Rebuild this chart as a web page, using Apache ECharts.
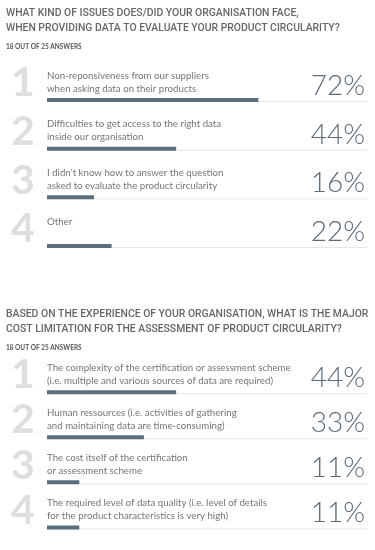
<!DOCTYPE html>
<html><head><meta charset="utf-8">
<script src="https://cdn.jsdelivr.net/npm/echarts@6/dist/echarts.min.js"></script>
<style>html,body{margin:0;padding:0;background:#fff}#c{width:375px;height:550px}</style>
</head><body><div id="c"></div>
<script>
const q1Title = 'WHAT KIND OF ISSUES DOES/DID YOUR ORGANISATION FACE,\nWHEN PROVIDING DATA TO EVALUATE YOUR PRODUCT CIRCULARITY?';
const q1Sub = '18 OUT OF 25 ANSWERS';
const q1Categories = [
  'Non-reponsiveness from our suppliers\nwhen asking data on their products',
  'Difficulties to get access to the right data\ninside our organisation',
  "I didn't know how to answer the question\nasked to evaluate the product circularity",
  'Other'
];
const q1Values = [72, 44, 16, 22];

const q2Title = 'BASED ON THE EXPERIENCE OF YOUR ORGANISATION, WHAT IS THE MAJOR\nCOST LIMITATION FOR THE ASSESSMENT OF PRODUCT CIRCULARITY?';
const q2Sub = '18 OUT OF 25 ANSWERS';
const q2Categories = [
  'The complexity of the certification or assessment scheme\n(i.e. multiple and various sources of data are required)',
  'Human ressources (i.e. activities of gathering\nand maintaining data are time-consuming)',
  'The cost itself of the certification\nor assessment scheme',
  'The required level of data quality (i.e. level of details\nfor the product characteristics is very high)'
];
const q2Values = [44, 33, 11, 11];
const rankLabels = ['1', '2', '3', '4'];

const FONT = 'Lato, "Source Sans Pro", "Open Sans", sans-serif';
const TITLE_FONT = 'Roboto, Lato, sans-serif';
const AXIS_MAX = 109;

function makeRender(cats) {
  return function (params, api) {
    const idx = api.value(0);
    const val = api.value(1);
    const p0 = api.coord([0, idx]);
    const p1 = api.coord([val, idx]);
    const pm = api.coord([AXIS_MAX, idx]);
    const y = p0[1];
    return {
      type: 'group',
      children: [
        { type: 'line', shape: { x1: p0[0], y1: y + 1.5, x2: pm[0], y2: y + 1.5 },
          style: { stroke: '#e4e7ea', lineWidth: 1 } },
        { type: 'rect', shape: { x: p0[0], y: y - 2, width: p1[0] - p0[0], height: 4 },
          style: { fill: '#5b6e7d' } },
        { type: 'text', x: p0[0] - 24, y: y - 17, style: { text: rankLabels[idx], font: 'bold 41px ' + FONT,
          fill: '#dedede', align: 'center', verticalAlign: 'middle' } },
        { type: 'text', x: p0[0], y: y - 31, style: { text: cats[idx], font: '9.7px ' + FONT,
          fill: '#757575', align: 'left', verticalAlign: 'top', lineHeight: 13 } },
        { type: 'text', x: pm[0] - 2, y: y - 14, style: { text: val + '%', font: '300 28px ' + FONT,
          fill: '#5b6b78', align: 'right', verticalAlign: 'middle' } }
      ]
    };
  };
}

const chart = echarts.init(document.getElementById('c'), null, { renderer: 'canvas' });
const titleStyle = { fontFamily: TITLE_FONT, fontSize: 10.4, fontWeight: 500, color: '#666', lineHeight: 15 };
const subStyle = { fontFamily: FONT, fontSize: 6.5, fontWeight: 'bold', color: '#555' };
chart.setOption({
  animation: false,
  title: [
    { text: q1Title, subtext: q1Sub, left: 6, top: 6, itemGap: 7, padding: 0, textStyle: titleStyle, subtextStyle: subStyle },
    { text: q2Title, subtext: q2Sub, left: 6, top: 307, itemGap: 7, padding: 0, textStyle: titleStyle, subtextStyle: subStyle }
  ],
  grid: [
    { left: 47, right: 8, top: 75.6, height: 194.8 },
    { left: 47, right: 8, top: 369.6, height: 194.8 }
  ],
  xAxis: [
    { gridIndex: 0, type: 'value', min: 0, max: AXIS_MAX, show: false },
    { gridIndex: 1, type: 'value', min: 0, max: AXIS_MAX, show: false }
  ],
  yAxis: [
    { gridIndex: 0, type: 'category', data: q1Categories, inverse: true, show: false },
    { gridIndex: 1, type: 'category', data: q2Categories, inverse: true, show: false }
  ],
  series: [
    { type: 'custom', xAxisIndex: 0, yAxisIndex: 0, encode: { y: 0, x: 1 },
      data: q1Values.map((v, i) => [i, v]), renderItem: makeRender(q1Categories), clip: false },
    { type: 'custom', xAxisIndex: 1, yAxisIndex: 1, encode: { y: 0, x: 1 },
      data: q2Values.map((v, i) => [i, v]), renderItem: makeRender(q2Categories), clip: false }
  ]
});
</script></body></html>
